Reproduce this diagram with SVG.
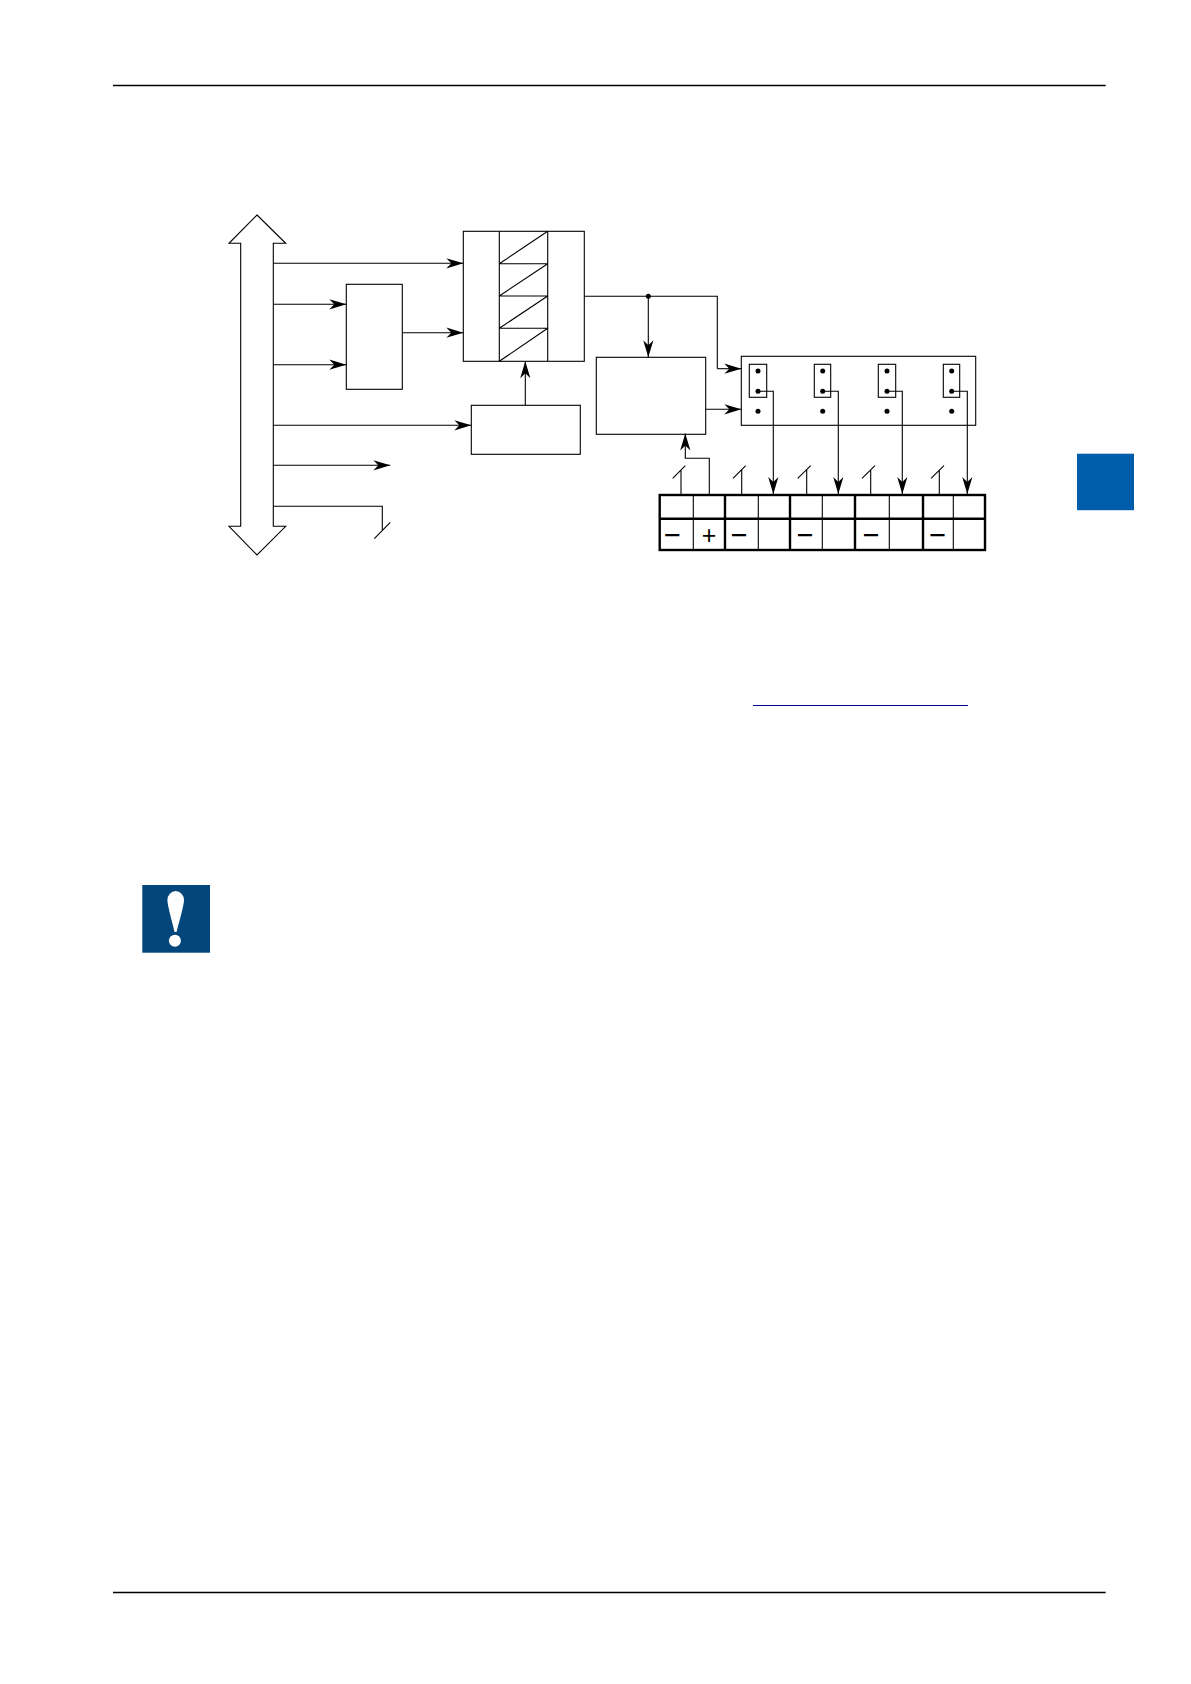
<svg xmlns="http://www.w3.org/2000/svg" width="1191" height="1684" viewBox="0 0 1191 1684">
<style>
.b{fill:#fff;stroke:#000;stroke-width:1.1}
.n{fill:none;stroke:#000;stroke-width:1.1}
.a{fill:none;stroke:#000;stroke-width:1.1;marker-end:url(#arr)}
.d{fill:#000}
.t{fill:none;stroke:#000;stroke-width:2.4}
.s{font-family:"Liberation Sans",Arial,sans-serif;font-size:25px;text-anchor:middle;fill:#000}
.m{font-size:29px}
</style>
<defs>
<marker id="arr" markerUnits="userSpaceOnUse" markerWidth="18" markerHeight="12" refX="17" refY="6" orient="auto">
<path d="M17,6 L0,0.9 L5,6 L0,11.1 Z" fill="#000"/>
</marker>
</defs>
<rect width="1191" height="1684" fill="#fff"/>
<g id="page-rules">
<line x1="113" y1="85.5" x2="1105.7" y2="85.5" stroke="#000" stroke-width="1.3"/>
<line x1="113" y1="1592.5" x2="1105.7" y2="1592.5" stroke="#000" stroke-width="1.3"/>
<line x1="753" y1="705.5" x2="968" y2="705.5" stroke="#00008b" stroke-width="1.2"/>
</g>
<g id="section-tab"><rect x="1077" y="453.7" width="57" height="56.5" fill="#005dab"/></g>
<g id="notice-icon">
<rect x="142.3" y="885" width="67.7" height="67.7" fill="#03467c"/>
<path d="M167.4,900 A8.3,9 0 0 1 184,900 C184,906 178,926 176.6,932 L174.6,932 C173.4,926 167.4,906 167.4,900 Z" fill="#fff"/>
<circle cx="174.9" cy="940.7" r="6" fill="#fff"/>
</g>
<g id="bus"><path class="b" d="M257,215 L285.7,243.3 L273.3,243.3 L273.3,526.3 L285.7,526.3 L257,555 L229,526.3 L240.7,526.3 L240.7,243.3 L229,243.3 Z"/></g>
<g id="latch-block"><rect class="b" x="346.3" y="284.3" width="56" height="105"/></g>
<g id="register">
<rect class="b" x="463.3" y="231.3" width="121" height="130"/>
<path class="n" d="M499.3,231.3V361.3M547.7,231.3V361.3M499.3,263.7H547.7M499.3,296H547.7M499.3,328.3H547.7M499.3,263.7L547.7,231.3M499.3,296L547.7,263.7M499.3,328.3L547.7,296M499.3,361.3L547.7,328.3"/>
</g>
<g id="control-block"><rect class="b" x="471.3" y="405.3" width="109" height="49"/></g>
<g id="logic-block"><rect class="b" x="596.3" y="357.3" width="109.4" height="77"/></g>
<g id="jumper-block">
<rect class="b" x="741.3" y="356.3" width="234.4" height="69"/>
<rect class="n" x="749.3" y="364.3" width="17.4" height="33"/>
<rect class="n" x="814.3" y="364.3" width="16.4" height="33"/>
<rect class="n" x="878.3" y="364.3" width="17.4" height="33"/>
<rect class="n" x="943.3" y="364.3" width="16.4" height="33"/>
<circle class="d" cx="758" cy="371" r="2.5"/><circle class="d" cx="758" cy="391.3" r="2.5"/><circle class="d" cx="758" cy="411.3" r="2.5"/>
<circle class="d" cx="822.7" cy="371" r="2.5"/><circle class="d" cx="822.7" cy="391.3" r="2.5"/><circle class="d" cx="822.7" cy="411.3" r="2.5"/>
<circle class="d" cx="887" cy="371" r="2.5"/><circle class="d" cx="887" cy="391.3" r="2.5"/><circle class="d" cx="887" cy="411.3" r="2.5"/>
<circle class="d" cx="951.7" cy="371" r="2.5"/><circle class="d" cx="951.7" cy="391.3" r="2.5"/><circle class="d" cx="951.7" cy="411.3" r="2.5"/>
</g>
<g id="terminal">
<rect class="t" x="659.7" y="495" width="325.3" height="55" fill="#fff"/>
<path class="t" d="M659.7,518.7H985M725,495V550M790,495V550M855,495V550M923,495V550"/>
<path class="n" d="M693.3,495V550M758.3,495V550M822.3,495V550M889.3,495V550M953.3,495V550"/>
<text class="s m" x="672.5" y="544.5">−</text>
<text class="s" x="709" y="543.5">+</text>
<text class="s m" x="739.2" y="544.5">−</text>
<text class="s m" x="805.3" y="544.5">−</text>
<text class="s m" x="871.3" y="544.5">−</text>
<text class="s m" x="937.6" y="544.5">−</text>
</g>
<g id="connectors">
<path class="a" d="M273.3,263.3H463.3"/>
<path class="a" d="M273.3,304.3H346.3"/>
<path class="a" d="M273.3,364.7H346.3"/>
<path class="a" d="M402.3,332.7H463.3"/>
<path class="a" d="M525.3,405.3V361.3"/>
<path class="a" d="M273.3,425.3H471.3"/>
<path class="a" d="M273.3,465.3H390.3"/>
<path class="n" d="M273.3,506.3H382.3V530.7M374.3,538.7L390.3,522.3"/>
<path class="n" d="M584.3,296.3H717.3V368.7"/>
<path class="a" d="M717.3,368.7H741.3"/>
<circle class="d" cx="648.3" cy="296.3" r="2.5"/>
<path class="a" d="M648.3,296.3V357.3"/>
<path class="a" d="M705.7,409.3H741.3"/>
<path class="a" d="M758,391.3H773.3V494"/>
<path class="a" d="M822.7,391.3H838.3V494"/>
<path class="a" d="M887,391.3H902.3V494"/>
<path class="a" d="M951.7,391.3H967.3V494"/>
<path class="a" d="M709.3,494V458.3H685.3V433.5"/>
<path class="n" d="M681,494V470M672.7,478.3L685.3,465.7"/>
<path class="n" d="M741.7,494V470M733,478.3L745.7,465.7"/>
<path class="n" d="M806.7,494V470M797.7,478.3L810.7,465.7"/>
<path class="n" d="M870.7,494V470M862,478.3L875,465.7"/>
<path class="n" d="M939.3,494V470M931,478.3L944,465.7"/>
</g>
</svg>
